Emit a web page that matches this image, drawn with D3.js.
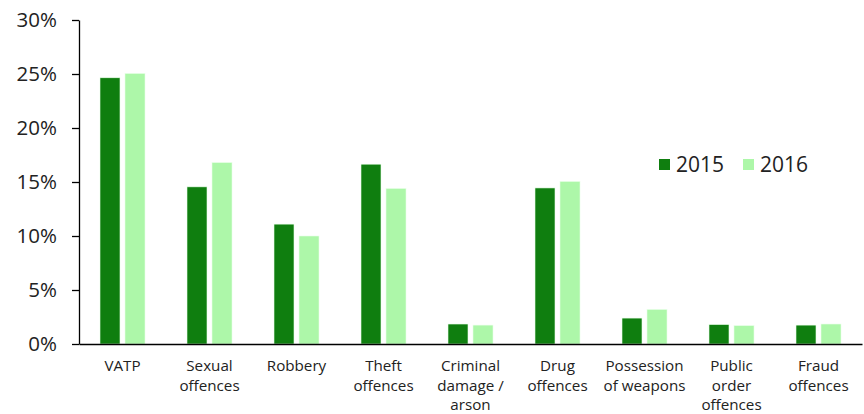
<!DOCTYPE html>
<html><head><meta charset="utf-8">
<script src="https://cdn.jsdelivr.net/npm/d3@7"></script>
<style>body{margin:0;background:#fff;} text{font-family:"Open Sans","Noto Sans",sans-serif;fill:#222;}</style>
</head><body><svg id="c" width="864" height="414"></svg>
<script>
const categories = [["VATP"],["Sexual","offences"],["Robbery"],["Theft","offences"],["Criminal","damage /","arson"],["Drug","offences"],["Possession","of weapons"],["Public","order","offences"],["Fraud","offences"]];
const series = ["2015","2016"];
const values2015 = [24.65,14.55,11.1,16.65,1.85,14.45,2.4,1.8,1.75];
const values2016 = [25.05,16.8,10.0,14.4,1.75,15.05,3.2,1.7,1.85];
const yTicks = [0,5,10,15,20,25,30];
const colors = ["#0f7e0f","#adf7a9"];

const svg = d3.select("#c");
const m = {l:79, r:862, t:20, b:344};
const x = d3.scaleBand().domain(d3.range(categories.length)).range([m.l, m.r]).padding(0);
const y = d3.scaleLinear().domain([0,30]).range([m.b, m.t]);
const barW = 20, gap = 5;

const data = categories.map((c,i)=>({i, v:[values2015[i], values2016[i]]}));
const g = svg.append("g");
data.forEach(d=>{
  d.v.forEach((v,k)=>{
    const cx = x(d.i) + x.bandwidth()/2;
    const bx = k===0 ? cx - gap/2 - barW : cx + gap/2;
    g.append("rect").attr("x", bx).attr("y", y(v)).attr("width", barW).attr("height", y(0)-y(v))
      .attr("fill", colors[k]).attr("stroke","#e8ffe8").attr("stroke-width",0.6);
  });
});

// y axis
const yAxis = d3.axisLeft(y).tickValues(yTicks).tickFormat(d=>d+"%").tickSize(7).tickSizeOuter(0);
const ya = svg.append("g").attr("transform",`translate(${m.l},0)`).call(yAxis);
ya.select(".domain").attr("stroke","#000").attr("stroke-width",1.3);
ya.selectAll(".tick line").attr("stroke","#000").attr("stroke-width",1.3);
ya.selectAll(".tick text").attr("font-size",20.5).attr("x",-22).attr("dy","0.34em").style("fill","#222");

// x axis baseline
const xAxis = d3.axisBottom(x).tickSize(0).tickFormat("");
const xa = svg.append("g").attr("transform",`translate(0,${m.b})`).call(xAxis);
xa.select(".domain").attr("stroke","#000").attr("stroke-width",1.6);
categories.forEach((lines,i)=>{
  lines.forEach((l,j)=>svg.append("text").attr("x", x(i)+x.bandwidth()/2).attr("y", 371 + j*19.5)
    .attr("text-anchor","middle").attr("font-size",15.2).text(l));
});

// legend
const leg = svg.append("g");
const legX = [659, 743];
series.forEach((s,k)=>{
  leg.append("rect").attr("x",legX[k]).attr("y",159).attr("width",11).attr("height",11).attr("fill",colors[k]);
  leg.append("text").attr("x",legX[k]+17).attr("y",171.5).attr("font-size",21).text(s);
});
</script></body></html>
